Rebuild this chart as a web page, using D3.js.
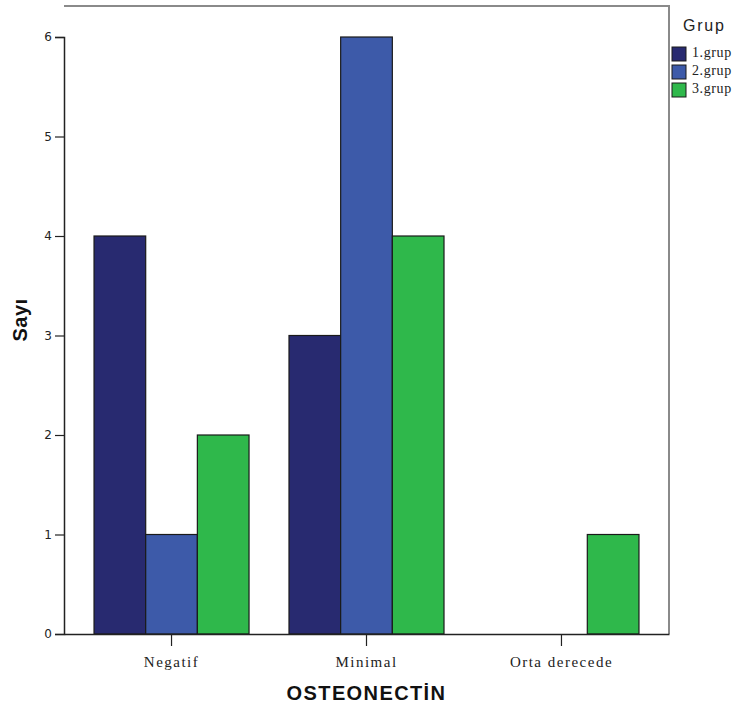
<!DOCTYPE html>
<html>
<head>
<meta charset="utf-8">
<script src="https://cdn.jsdelivr.net/npm/d3@7"></script>
<style>
  html, body { margin: 0; padding: 0; background: #fff; }
  svg { display: block; }
</style>
</head>
<body>
<svg id="chart" width="736" height="708"></svg>
<script>
// Osteonectin staining level counts per group
const categories = ["Negatif", "Minimal", "Orta derecede"];
const groups = ["1.grup", "2.grup", "3.grup"];
const grup1 = [4, 3, 0];
const grup2 = [1, 6, 0];
const grup3 = [2, 4, 1];
const yTicks = [0, 1, 2, 3, 4, 5, 6];
const colors = ["#282a70", "#3d5aa9", "#2fb84b"];

const seriesValues = [grup1, grup2, grup3];

const svg = d3.select("#chart");
const plotLeft = 64, plotRight = 669, plotTop = 6, plotBottom = 634;

const x = d3.scaleBand()
  .domain(categories)
  .range([plotLeft, plotRight])
  .paddingInner(0.205)
  .paddingOuter(0.154);

const xInner = d3.scaleBand()
  .domain(groups)
  .range([0, x.bandwidth()]);

const y = d3.scaleLinear()
  .domain([0, 6])
  .range([plotBottom, 37]);

// frame (top and right sides)
svg.append("path")
  .attr("d", `M${plotLeft},${plotTop}H${plotRight}V${plotBottom}`)
  .attr("fill", "none")
  .attr("stroke", "#8a8a8a")
  .attr("stroke-width", 2);

// bars
const barsG = svg.append("g");
categories.forEach((cat, ci) => {
  groups.forEach((g, gi) => {
    const v = seriesValues[gi][ci];
    if (v <= 0) return;
    barsG.append("rect")
      .attr("x", x(cat) + xInner(g))
      .attr("y", y(v))
      .attr("width", xInner.bandwidth())
      .attr("height", y(0) - y(v))
      .attr("fill", colors[gi])
      .attr("stroke", "#1a1a1a")
      .attr("stroke-width", 1.2);
  });
});

// y axis
const yAxis = svg.append("g")
  .attr("transform", `translate(${plotLeft},0)`)
  .call(d3.axisLeft(y).tickValues(yTicks).tickFormat(d3.format("d")).tickSize(9).tickPadding(3));
yAxis.select(".domain").attr("stroke", "#222").attr("stroke-width", 1.5);
yAxis.selectAll(".tick line").attr("stroke", "#222").attr("stroke-width", 1.2);
yAxis.selectAll(".tick text")
  .attr("font-family", "DejaVu Sans, sans-serif")
  .attr("font-size", 12)
  .attr("fill", "#222");

// x axis
const xAxis = svg.append("g")
  .attr("transform", `translate(0,${plotBottom})`)
  .call(d3.axisBottom(x).tickSizeInner(12).tickSizeOuter(0).tickPadding(8));
xAxis.select(".domain").attr("stroke", "#222").attr("stroke-width", 1.5);
xAxis.selectAll(".tick line").attr("stroke", "#222").attr("stroke-width", 1.2);
xAxis.selectAll(".tick text")
  .attr("font-family", "Liberation Serif, serif")
  .attr("font-size", 15)
  .attr("letter-spacing", 1.5)
  .attr("dy", "0.85em")
  .attr("fill", "#222");

// axis titles
svg.append("text")
  .attr("x", (plotLeft + plotRight) / 2)
  .attr("y", 700)
  .attr("text-anchor", "middle")
  .attr("font-family", "Liberation Sans, Arial, sans-serif")
  .attr("font-weight", "bold")
  .attr("font-size", 20)
  .attr("letter-spacing", 1.4)
  .attr("fill", "#111")
  .text("OSTEONECTİN");

svg.append("text")
  .attr("transform", `translate(27,320) rotate(-90)`)
  .attr("text-anchor", "middle")
  .attr("font-family", "Liberation Sans, Arial, sans-serif")
  .attr("font-weight", "bold")
  .attr("font-size", 20)
  .attr("letter-spacing", 0.5)
  .attr("fill", "#111")
  .text("Sayı");

// legend
const legend = svg.append("g");
legend.append("text")
  .attr("x", 683)
  .attr("y", 31)
  .attr("font-family", "Liberation Sans, Arial, sans-serif")
  .attr("font-size", 16)
  .attr("letter-spacing", 1.8)
  .attr("fill", "#222")
  .text("Grup");
groups.forEach((g, i) => {
  legend.append("rect")
    .attr("x", 672)
    .attr("y", 47 + i * 18)
    .attr("width", 14)
    .attr("height", 14)
    .attr("fill", colors[i])
    .attr("stroke", "#1a1a1a")
    .attr("stroke-width", 1);
  legend.append("text")
    .attr("x", 692)
    .attr("y", 57 + i * 18)
    .attr("font-family", "Liberation Serif, serif")
    .attr("font-size", 14)
    .attr("letter-spacing", 0.6)
    .attr("fill", "#222")
    .text(g);
});
</script>
</body>
</html>
